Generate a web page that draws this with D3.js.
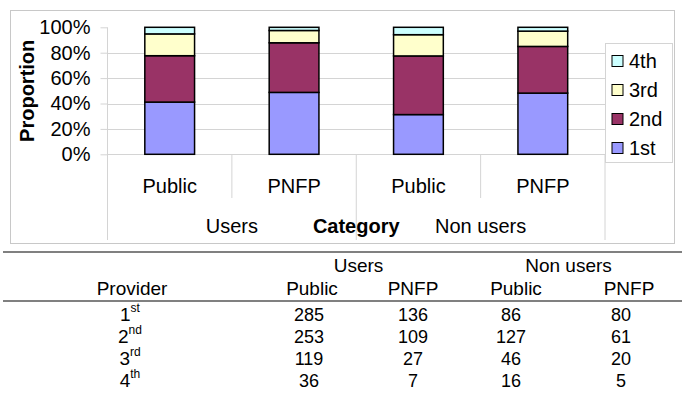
<!DOCTYPE html>
<html><head><meta charset="utf-8">
<script src="https://cdn.jsdelivr.net/npm/d3@7"></script>
<style>
html,body{margin:0;padding:0;background:#fff;}
svg{display:block;font-family:"Liberation Sans",Arial,sans-serif;}
</style></head>
<body>
<svg id="c" width="685" height="405"></svg>
<script>
// ---- data ----
const groups = ["Users", "Non users"];
const providers = ["Public", "PNFP"];
const ranks = ["1st", "2nd", "3rd", "4th"];
const counts1st = [285, 136, 86, 80];
const counts2nd = [253, 109, 127, 61];
const counts3rd = [119, 27, 46, 20];
const counts4th = [36, 7, 16, 5];
const yTicks = [0, 0.2, 0.4, 0.6, 0.8, 1];
const colors = ["#9999FF", "#993366", "#FFFFCC", "#CCFFFF"];

const countsByRank = [counts1st, counts2nd, counts3rd, counts4th];
const bars = [];
groups.forEach((g, gi) => providers.forEach((p, pi) => {
  const idx = gi * providers.length + pi;
  const row = {key: g + "|" + p, group: g, provider: p};
  ranks.forEach((r, ri) => row[r] = countsByRank[ri][idx]);
  bars.push(row);
}));

const svg = d3.select("#c");

// outer chart frame
svg.append("rect").attr("x", 10.5).attr("y", 10.5).attr("width", 664).attr("height", 233)
  .attr("fill", "#fff").attr("stroke", "#c8c8c8").attr("stroke-width", 1);

const pLeft = 107.5, pRight = 605, pTop = 27.3, pBottom = 154.3;
const x = d3.scaleBand().domain(bars.map(d => d.key)).range([pLeft, pRight])
  .paddingInner(0.6).paddingOuter(0.3);
const y = d3.scaleLinear().domain([0, 1]).range([pBottom, pTop]);

const stack = d3.stack().keys(ranks).offset(d3.stackOffsetExpand);
const series = stack(bars);

const grid = "#d4d4d4";
// gridlines
svg.append("g").selectAll("line").data(yTicks.filter(t => t > 0 && t < 1)).join("line")
  .attr("x1", pLeft).attr("x2", pRight)
  .attr("y1", d => Math.round(y(d)) + 0.5).attr("y2", d => Math.round(y(d)) + 0.5)
  .attr("stroke", grid);

// y axis
const yAxis = svg.append("g").attr("transform", `translate(${pLeft},0)`)
  .call(d3.axisLeft(y).tickValues(yTicks).tickFormat(d3.format(".0%")).tickSize(7).tickPadding(10));
yAxis.select(".domain").remove();
yAxis.selectAll(".tick line").attr("stroke", grid);
yAxis.selectAll("text").attr("font-size", 20).attr("font-family", "Liberation Sans, Arial, sans-serif").attr("fill", "#000");
svg.append("line").attr("x1", pLeft).attr("x2", pLeft).attr("y1", pTop).attr("y2", 240).attr("stroke", grid);

// baseline
svg.append("line").attr("x1", pLeft).attr("x2", pRight).attr("y1", Math.round(y(0)) + 0.5).attr("y2", Math.round(y(0)) + 0.5).attr("stroke", grid);

// category separators
const step = x.step();
d3.range(1, bars.length + 1).forEach(i => {
  const xx = pLeft + i * step;
  const isGroupEdge = i % providers.length === 0;
  svg.append("line").attr("x1", xx).attr("x2", xx).attr("y1", y(0)).attr("y2", isGroupEdge ? 240 : 198).attr("stroke", grid);
});

// bars
svg.append("g").selectAll("g").data(series).join("g")
  .attr("fill", (d, i) => colors[i])
  .selectAll("rect").data(d => d).join("rect")
  .attr("x", d => x(d.data.key)).attr("width", x.bandwidth())
  .attr("y", d => y(d[1])).attr("height", d => y(d[0]) - y(d[1]))
  .attr("stroke", "#000").attr("stroke-width", 1.5);

// category labels
svg.append("g").selectAll("text").data(bars).join("text")
  .attr("x", d => x(d.key) + x.bandwidth() / 2).attr("y", 193)
  .attr("text-anchor", "middle").attr("font-size", 20).text(d => d.provider);
svg.append("g").selectAll("text").data(groups).join("text")
  .attr("x", (d, i) => pLeft + (i * providers.length + providers.length / 2) * step)
  .attr("y", 233).attr("text-anchor", "middle").attr("font-size", 20).text(d => d);
svg.append("text").attr("x", (pLeft + pRight) / 2).attr("y", 233).attr("text-anchor", "middle")
  .attr("font-size", 20).attr("font-weight", "bold").text("Category");

// y title
svg.append("text").attr("transform", `translate(34,${(pTop + pBottom) / 2}) rotate(-90)`)
  .attr("text-anchor", "middle").attr("font-size", 20).attr("font-weight", "bold").text("Proportion");

// legend
const lg = svg.append("g");
lg.append("rect").attr("x", 605.5).attr("y", 43.5).attr("width", 67).attr("height", 119)
  .attr("fill", "#fff").attr("stroke", "#d4d4d4");
const legendItems = ranks.map((r, i) => ({r, c: colors[i]})).reverse();
const li = lg.selectAll("g").data(legendItems).join("g")
  .attr("transform", (d, i) => `translate(612,${61 + i * 29})`);
li.append("rect").attr("x", 0).attr("y", -5.5).attr("width", 11).attr("height", 11)
  .attr("fill", d => d.c).attr("stroke", "#000").attr("stroke-width", 1);
li.append("text").attr("x", 17).attr("y", 7).attr("font-size", 20).text(d => d.r);

// ---- table ----
const tbl = svg.append("g").attr("font-size", 19);
tbl.append("line").attr("x1", 3).attr("x2", 682).attr("y1", 252).attr("y2", 252).attr("stroke", "#808080").attr("stroke-width", 2);
tbl.append("line").attr("x1", 3).attr("x2", 682).attr("y1", 301).attr("y2", 301).attr("stroke", "#808080").attr("stroke-width", 2);
const headX = [312, 413, 516, 629];
const valX = [309, 413, 511, 621];
const labelX = 130;
groups.forEach((g, gi) => {
  tbl.append("text").attr("x", (headX[gi * 2] + headX[gi * 2 + 1]) / 2 - 4).attr("y", 272).attr("text-anchor", "middle").text(g);
});
tbl.append("text").attr("x", labelX + 2).attr("y", 295).attr("text-anchor", "middle").text("Provider");
bars.forEach((b, bi) => {
  tbl.append("text").attr("x", headX[bi]).attr("y", 295).attr("text-anchor", "middle").text(b.provider);
});
const rowY = [321, 343, 365, 387];
ranks.forEach((r, ri) => {
  const m = r.match(/^(\d+)(\D+)$/);
  const t = tbl.append("text").attr("x", labelX).attr("y", rowY[ri]).attr("text-anchor", "middle");
  t.append("tspan").text(m[1]);
  t.append("tspan").attr("font-size", 12).attr("dy", -9).text(m[2]);
  bars.forEach((b, bi) => {
    tbl.append("text").attr("x", valX[bi]).attr("y", rowY[ri]).attr("text-anchor", "middle")
      .attr("font-size", 18).text(b[r]);
  });
});
</script>
</body></html>
